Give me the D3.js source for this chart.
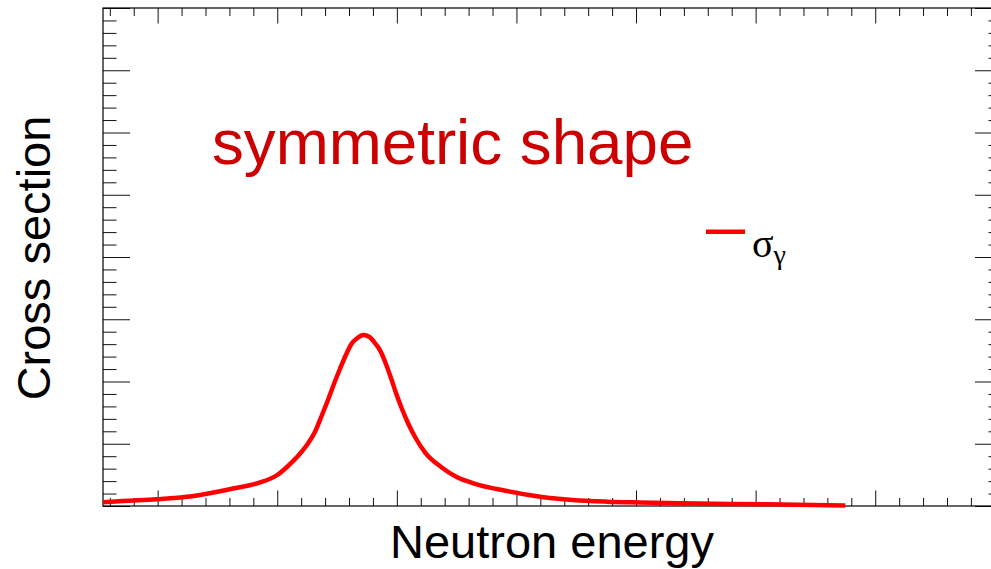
<!DOCTYPE html>
<html>
<head>
<meta charset="utf-8">
<script src="https://cdn.jsdelivr.net/npm/d3@7"></script>
<style>
  html, body { margin: 0; padding: 0; background: #fff; overflow: hidden; }
  svg { display: block; }
</style>
</head>
<body>
<svg id="chart" width="991" height="569"></svg>
<script>
// Capture cross section around a single resonance (arbitrary units)
const energy = [0.543, 0.71, 0.99, 1.27, 1.63, 1.83, 2.00, 2.081, 2.165, 2.248, 2.315, 2.374,
  2.424, 2.474, 2.524, 2.574, 2.62, 2.67, 2.72, 2.77, 2.817, 2.867, 2.909, 2.951, 2.993, 3.043,
  3.093, 3.152, 3.24, 3.37, 3.50, 3.64, 3.92, 4.20, 4.47, 4.76, 5.03, 5.37, 6.09, 6.75];
const sigmaGamma = [0.059, 0.080, 0.108, 0.153, 0.281, 0.365, 0.498, 0.627, 0.787, 0.980, 1.189,
  1.462, 1.703, 1.960, 2.201, 2.426, 2.602, 2.699, 2.747, 2.715, 2.618, 2.474, 2.281, 2.056,
  1.815, 1.558, 1.333, 1.108, 0.851, 0.627, 0.466, 0.365, 0.241, 0.149, 0.096, 0.069, 0.056,
  0.043, 0.027, 0.008];

// Axis ranges and tick positions (no tick labels are shown)
const xDomain = [0.543, 8.06];
const yDomain = [0, 8];
const xMajorTicks = [1, 2, 3, 4, 5, 6, 7, 8];
const xMinorTicks = d3.range(3, 41).map(i => i / 5).filter(v => !xMajorTicks.includes(v));
const yMajorTicks = [0, 1, 2, 3, 4, 5, 6, 7, 8];
const yMinorTicks = d3.range(1, 40).map(i => i / 5).filter(v => !yMajorTicks.includes(v));

const titleText = "symmetric shape";
const xTitle = "Neutron energy";
const yTitle = "Cross section";

const frame = { left: 103, right: 1002, top: 8, bottom: 506 };

const svg = d3.select("#chart");
const x = d3.scaleLinear().domain(xDomain).range([frame.left, frame.right]);
const y = d3.scaleLinear().domain(yDomain).range([frame.bottom, frame.top]);

const W = frame.right - frame.left, H = frame.bottom - frame.top;
const xMajorLen = 15.5, xMinorLen = 8;
const yMajorLen = 27, yMinorLen = 13.5;

function drawAxis(axisGen, transform) {
  const g = svg.append("g").attr("transform", transform).call(axisGen);
  g.select(".domain").remove();
  g.selectAll(".tick line").attr("stroke", "#111").attr("stroke-width", 1);
  g.selectAll(".tick text").remove();
  return g;
}

// Bottom / top: ticks pointing inward
drawAxis(d3.axisBottom(x).tickValues(xMajorTicks).tickSize(-xMajorLen).tickFormat(""), `translate(0,${frame.bottom})`);
drawAxis(d3.axisBottom(x).tickValues(xMinorTicks).tickSize(-xMinorLen).tickFormat(""), `translate(0,${frame.bottom})`);
drawAxis(d3.axisTop(x).tickValues(xMajorTicks).tickSize(-xMajorLen).tickFormat(""), `translate(0,${frame.top})`);
drawAxis(d3.axisTop(x).tickValues(xMinorTicks).tickSize(-xMinorLen).tickFormat(""), `translate(0,${frame.top})`);
// Left / right
drawAxis(d3.axisLeft(y).tickValues(yMajorTicks).tickSize(-yMajorLen).tickFormat(""), `translate(${frame.left},0)`);
drawAxis(d3.axisLeft(y).tickValues(yMinorTicks).tickSize(-yMinorLen).tickFormat(""), `translate(${frame.left},0)`);
drawAxis(d3.axisRight(y).tickValues(yMajorTicks).tickSize(-yMajorLen).tickFormat(""), `translate(${frame.right},0)`);
drawAxis(d3.axisRight(y).tickValues(yMinorTicks).tickSize(-yMinorLen).tickFormat(""), `translate(${frame.right},0)`);

// Frame
svg.append("rect")
  .attr("x", frame.left).attr("y", frame.top)
  .attr("width", W).attr("height", H)
  .attr("fill", "none").attr("stroke", "#000").attr("stroke-width", 1.2);

// Resonance curve
const pts = energy.map((e, i) => [e, sigmaGamma[i]]);
svg.append("path")
  .datum(pts)
  .attr("fill", "none")
  .attr("stroke", "#ff0000")
  .attr("stroke-width", 4.5)
  .attr("stroke-linejoin", "round")
  .attr("d", d3.line().x(d => x(d[0])).y(d => y(d[1])).curve(d3.curveMonotoneX));

// Annotation
svg.append("text")
  .attr("x", 212).attr("y", 164)
  .attr("font-family", "'Liberation Sans', Arial, sans-serif")
  .attr("font-size", 63.7)
  .attr("fill", "#cc0000")
  .text(titleText);

// Legend
svg.append("line")
  .attr("x1", 706).attr("x2", 745)
  .attr("y1", 231.7).attr("y2", 231.7)
  .attr("stroke", "#ff0000").attr("stroke-width", 4.5);
const leg = svg.append("text")
  .attr("x", 752).attr("y", 257)
  .attr("font-family", "'Liberation Serif', 'Times New Roman', serif")
  .attr("font-size", 40)
  .attr("fill", "#000");
leg.append("tspan").text("σ");
leg.append("tspan").attr("font-size", 28).attr("dy", 7).text("γ");

// Axis titles
svg.append("text")
  .attr("x", 552).attr("y", 558)
  .attr("text-anchor", "middle")
  .attr("font-family", "'Liberation Sans', Arial, sans-serif")
  .attr("font-size", 47)
  .attr("fill", "#000")
  .text(xTitle);

svg.append("text")
  .attr("transform", "translate(50,258) rotate(-90)")
  .attr("text-anchor", "middle")
  .attr("font-family", "'Liberation Sans', Arial, sans-serif")
  .attr("font-size", 47)
  .attr("fill", "#000")
  .text(yTitle);
</script>
</body>
</html>
